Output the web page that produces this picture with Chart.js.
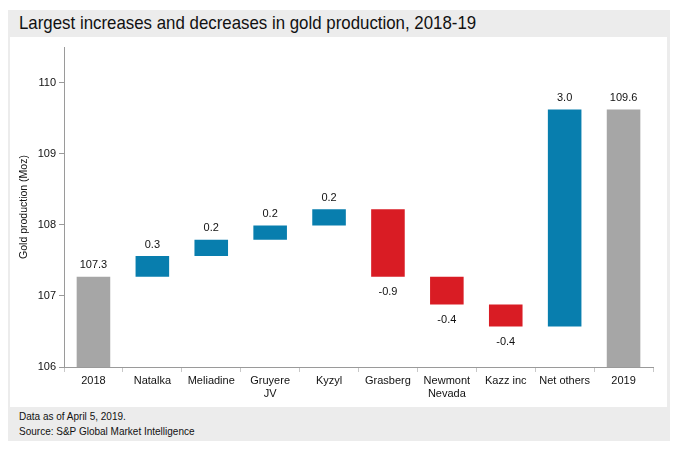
<!DOCTYPE html>
<html>
<head>
<meta charset="utf-8">
<script src="https://cdn.jsdelivr.net/npm/chart.js@4.4.0/dist/chart.umd.min.js"></script>
<style>
  body { margin: 0; background: #fff; width: 681px; height: 449px; position: relative; overflow: hidden; }
  #panel { position: absolute; left: 8px; top: 10px; width: 662px; height: 431px; background: #ececec; }
  #title { position: absolute; left: 19px; top: 12px; font-family: "Liberation Sans", Arial, sans-serif; font-size: 19px; color: #111; white-space: nowrap; transform: scaleX(0.887); transform-origin: left top; }
  #box { position: absolute; left: 10px; top: 37px; width: 657px; height: 370px; background: #fff; }
  #footer { position: absolute; left: 19px; top: 409px; font-family: "Liberation Sans", Arial, sans-serif; font-size: 11.5px; line-height: 15px; color: #111; white-space: nowrap; transform: scaleX(0.87); transform-origin: left top; }
</style>
</head>
<body>
<div id="panel"></div>
<div id="title">Largest increases and decreases in gold production, 2018-19</div>
<div id="box"><canvas id="myChart"></canvas></div>
<div id="footer">Data as of April 5, 2019.<br>Source: S&amp;P Global Market Intelligence</div>
<script>
// Categories
const categories = ['2018', 'Natalka', 'Meliadine', ['Gruyere', 'JV'], 'Kyzyl', 'Grasberg',
    ['Newmont', 'Nevada'], 'Kazz inc', 'Net others', '2019'];
// floating bar bottom / top (Moz)
const barFrom = [106, 107.27, 107.56, 107.79, 107.99, 108.22, 107.27, 106.88, 106.57, 106];
const barTo = [107.27, 107.56, 107.79, 107.99, 108.22, 107.27, 106.88, 106.57, 109.62, 109.62];
// labels shown on bars
const barLabels = ['107.3', '0.3', '0.2', '0.2', '0.2', '-0.9', '-0.4', '-0.4', '3.0', '109.6'];
const yTicks = { min: 106, max: 110.5, step: 1 };

const colorTotal = '#a6a6a6';
const colorUp = '#087eae';
const colorDown = '#d91c24';

function barColor(i) {
    if (i === 0 || i === categories.length - 1) return colorTotal;
    return barTo[i] >= barFrom[i] ? colorUp : colorDown;
}

const labelPlugin = {
    id: 'barLabels',
    afterDatasetsDraw(chart) {
        const ctx = chart.ctx;
        const meta = chart.getDatasetMeta(0);
        ctx.save();
        ctx.font = '11px "Liberation Sans", Arial, sans-serif';
        ctx.fillStyle = '#111';
        ctx.textAlign = 'center';
        meta.data.forEach((bar, i) => {
            const top = Math.min(bar.y, bar.base);
            const bottom = Math.max(bar.y, bar.base);
            if (barLabels[i].startsWith('-')) {
                ctx.textBaseline = 'top';
                ctx.fillText(barLabels[i], bar.x, bottom + 10);
            } else {
                ctx.textBaseline = 'bottom';
                ctx.fillText(barLabels[i], bar.x, top - 6);
            }
        });
        ctx.restore();
    }
};

const ctx = document.getElementById('myChart').getContext('2d');
new Chart(ctx, {
    type: 'bar',
    data: {
        labels: categories,
        datasets: [{
            data: barFrom.map((v, i) => [v, barTo[i]]),
            backgroundColor: categories.map((c, i) => barColor(i)),
            borderWidth: 0,
            barPercentage: 0.57,
            categoryPercentage: 1,
        }],
    },
    options: {
        responsive: true,
        maintainAspectRatio: false,
        animation: false,
        layout: { padding: { top: 10, right: 14, left: 0, bottom: 0 } },
        plugins: {
            legend: { display: false },
            tooltip: { enabled: false },
        },
        scales: {
            x: {
                afterFit(scale) { scale.height = 40; },
                border: { color: '#9a9a9a' },
                grid: { drawOnChartArea: false, tickLength: 5, color: '#c8c8c8' },
                ticks: {
                    color: '#111', padding: 2, maxRotation: 0,
                    font: { family: '"Liberation Sans", Arial, sans-serif', size: 11 },
                },
            },
            y: {
                min: yTicks.min,
                max: yTicks.max,
                afterFit(scale) { scale.width = 54; },
                border: { color: '#9a9a9a' },
                grid: { drawOnChartArea: false, tickLength: 5, color: '#9a9a9a' },
                title: {
                    display: true,
                    text: 'Gold production (Moz)',
                    color: '#111',
                    padding: { top: 8, bottom: 0 },
                    font: { family: '"Liberation Sans", Arial, sans-serif', size: 10.5 },
                },
                ticks: {
                    stepSize: yTicks.step,
                    includeBounds: false,
                    color: '#111', padding: 3,
                    font: { family: '"Liberation Sans", Arial, sans-serif', size: 11 },
                },
            },
        },
    },
    plugins: [labelPlugin],
});
</script>
</body>
</html>
